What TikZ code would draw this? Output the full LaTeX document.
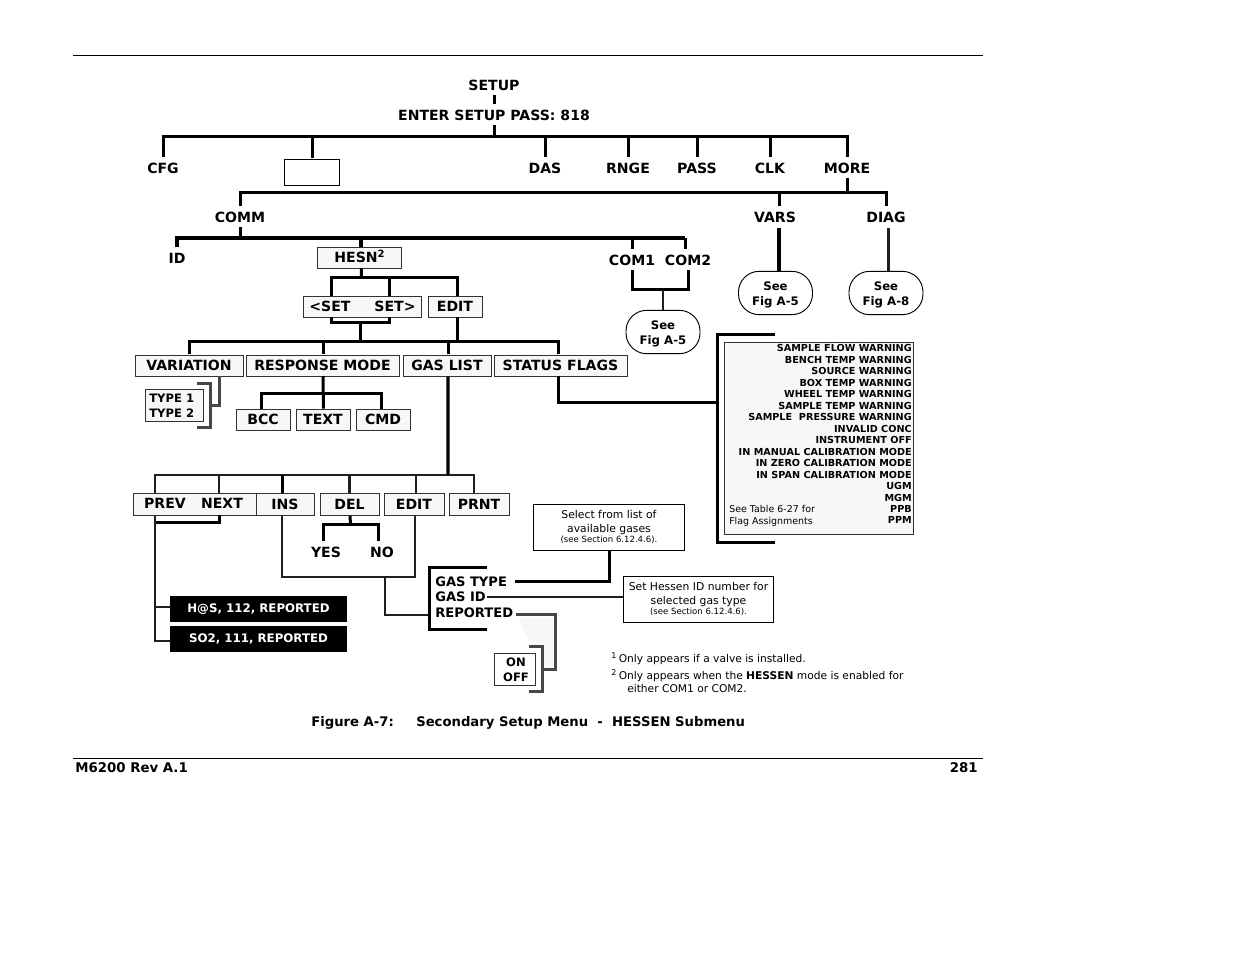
\documentclass[tikz,border=0pt]{standalone}
\usepackage{fontspec}
\setmainfont{DejaVu Sans}
\definecolor{boxgray}{RGB}{247,247,247}
\definecolor{wiredark}{RGB}{50,50,50}
\tikzset{
  lab/.style={font=\fontsize{10.55}{13}\selectfont\bfseries,inner xsep=0pt,inner ysep=3.5pt,text height=8.6pt,text depth=0pt},
  gasfield/.style={lab,font=\fontsize{9.8}{13}\selectfont\bfseries},
  menubox/.style={lab,text height=7.7pt,text depth=0.6pt,inner ysep=3.5pt,draw=wiredark,line width=0.6pt,fill=boxgray,minimum height=15.6pt},
  blob/.style={draw,line width=0.7pt,rounded corners=15.5pt,fill=white,align=center,inner sep=0pt,font=\fontsize{8.8}{11}\selectfont\bfseries,minimum width=55.5pt,minimum height=32.5pt},
  smallbox/.style={draw=wiredark,line width=0.6pt,fill=boxgray,inner sep=0pt},
  smalltext/.style={font=\fontsize{8.7}{11.2}\selectfont\bfseries,inner sep=0pt,align=left},
  notebox/.style={draw,line width=0.7pt,fill=white,inner sep=0pt,minimum width=113pt,minimum height=34.5pt},
  notetext/.style={font=\fontsize{8.1}{9.8}\selectfont,inner sep=0pt,align=center},
  notesmall/.style={font=\fontsize{6.4}{7}\selectfont,inner sep=0pt},
  blackbox/.style={fill=black,text=white,inner sep=0pt,minimum width=132.8pt,minimum height=19.5pt,font=\fontsize{8.85}{10}\selectfont\bfseries},
  flagtext/.style={font=\fontsize{7.25}{8.6}\selectfont\bfseries,inner sep=0pt,align=right},
  footnote/.style={font=\fontsize{8}{10}\selectfont,inner sep=0pt,anchor=west},
  caption/.style={font=\fontsize{10}{11}\selectfont\bfseries,inner sep=0pt,anchor=west},
  wire/.style={line width=2.25pt,transform canvas={shift={(0.375pt,0.375pt)}}},
  wirethick/.style={line width=2.5pt},
  wirethin/.style={line width=1.8pt,color=black!88},
  wiregray/.style={wire,color=wiredark!90}
}
\begin{document}
\begin{tikzpicture}[x=0.75pt,y=0.75pt,yscale=-1]
    \useasboundingbox (0,0) rectangle (1235,954);

    % Page rules
    \coordinate (ruletopl) at (73,55);
    \coordinate (ruletopr) at (983,55);
    \coordinate (rulebotl) at (73,758);
    \coordinate (rulebotr) at (983,758);
    \draw [line width=0.7pt] (ruletopl) -- (ruletopr);
    \draw [line width=0.7pt] (rulebotl) -- (rulebotr);

    % Top menu
    \node [lab] (setup) at (494,85) {SETUP};
    \node [lab] (enter) at (494,115) {ENTER SETUP PASS: 818};
    \node [lab] (cfg) at (163,168) {CFG};
    \node [draw,line width=0.7pt,inner sep=0pt,minimum width=41.2pt,minimum height=19.5pt] (blank) at (312,172) {};
    \node [lab] (das) at (545,168) {DAS};
    \node [lab] (rnge) at (628,168) {RNGE};
    \node [lab] (pass) at (697,168) {PASS};
    \node [lab] (clk) at (770,168) {CLK};
    \node [lab] (more) at (847,168) {MORE};
    \coordinate (busmain) at (494,137);
    \draw [wire] (setup) -- (enter);
    \draw [wire] (enter) -- (busmain);
    \foreach \n in {cfg,blank,das,rnge,pass,clk,more}
        \draw [wire] (\n.north) |- (busmain);

    % Second level
    \node [lab] (comm) at (240,217) {COMM};
    \node [lab] (vars) at (775,217) {VARS};
    \node [lab] (diag) at (886,217) {DIAG};
    \coordinate (busmore) at (847,193);
    \draw [wire] (more) -- (busmore);
    \draw [wire] (comm.north) |- (busmore);
    \draw [wire] ([xshift=3pt]vars.north) |- (busmore);
    \draw [wire] (diag.north) |- (busmore);
    \node [blob] (seevars) at (775.5,293) {\rule{0pt}{9.5pt}See\\Fig A-5};
    \node [blob] (seediag) at (886,293) {\rule{0pt}{9.5pt}See\\Fig A-8};
    \draw [wirethick] ([xshift=3pt]vars.south) -- ([xshift=3pt]vars.south |- seevars.north);
    \draw [wirethin] ([xshift=2pt]diag.south) -- ([xshift=2pt]diag.south |- seediag.north);

    % COMM branch
    \node [lab] (id) at (177,258) {ID};
    \node [menubox,minimum width=63.5pt] (hesn) at (359.5,258) {HESN\raisebox{3.6pt}{\fontsize{7.5}{8}\selectfont 2}};
    \node [lab] (com1) at (632,260) {COM1};
    \node [lab] (com2) at (688,260) {COM2};
    \coordinate (buscomm) at (240,238);
    \draw [wire] (comm) -- (buscomm);
    \draw [wirethick] (id.north) |- (buscomm);
    \draw [wirethick] ([xshift=1pt]hesn.north) |- (buscomm);
    \draw [wire] (com1.north) -- (com1.north |- buscomm);
    \draw [wire] ([xshift=-2pt]com2.north) -- ([xshift=-2pt]com2.north |- buscomm);
    \draw [wirethick] ([xshift=-2pt]com2.north |- buscomm) -- (buscomm);
    \node [blob] (seecom) at (663,332) {\rule{0pt}{9.5pt}See\\Fig A-5};
    \coordinate (buscom) at (663,290);
    \draw [wire] (com1.south) |- (buscom);
    \draw [wire] (com2.south) |- (buscom);
    \draw [wirethin] (buscom) -- (seecom.north);

    % HESN branch
    \node [menubox,minimum width=88.5pt] (setbox) at (362,306.5) {};
    \node [lab] (setl) at (330,306) {<SET};
    \node [lab] (setr) at (395,306) {SET>};
    \node [menubox,minimum width=40.5pt] (hedit) at (455,306.5) {EDIT};
    \coordinate (bushesn) at (361,278);
    \coordinate (setbus) at (360,323);
    \coordinate (bustop) at (360,342);
    \coordinate (setltop) at (331,296.5);
    \coordinate (setrtop) at (389,296.5);
    \coordinate (setlbot) at (331,317);
    \coordinate (setrbot) at (389,317);
    \coordinate (heditx) at (457,296.5);
    \coordinate (heditb) at (457,317);
    \draw [wire] ([xshift=1pt]hesn.south) -- (bushesn);
    \draw [wire] (setltop) |- (bushesn);
    \draw [wire] (setrtop) |- (bushesn);
    \draw [wire] (heditx) |- (bushesn);
    \draw [wire] (setlbot) |- (setbus);
    \draw [wire] (setrbot) |- (setbus);
    \draw [wire] (setbus) -- (bustop);

    % Main row
    \node [menubox,minimum width=81pt] (variation) at (189,365.7) {VARIATION};
    \node [menubox,minimum width=114.8pt] (respmode) at (322.5,365.7) {RESPONSE MODE};
    \node [menubox,minimum width=66pt] (gaslist) at (447,365.7) {GAS LIST};
    \node [menubox,minimum width=99.8pt] (status) at (560.5,365.7) {STATUS FLAGS};
    \draw [wire] (heditb) |- (bustop);
    \draw [wire] (variation.north) |- (bustop);
    \draw [wire] (respmode.north) |- (bustop);
    \draw [wire] ([xshift=0.7pt]gaslist.north) |- (bustop);
    \draw [wire] ([xshift=-2pt]status.north) |- (bustop);

    % Variation types
    \node [smallbox,minimum width=43.5pt,minimum height=24pt] (typebox) at (174,405) {};
    \node [smalltext,anchor=west] (type1) at (149,398) {TYPE 1};
    \node [smalltext,anchor=west] (type2) at (149,413) {TYPE 2};
    \coordinate (typebrk) at (210,406);
    \coordinate (typetop) at (196,384);
    \coordinate (typebot) at (196,428);
    \draw [wiregray] (typetop) -- (210,384) -- (210,428) -- (typebot);
    \draw [wiregray] ([xshift=22.5pt]variation.south) |- (typebrk);

    % Response mode
    \node [menubox,minimum width=40.5pt] (bcc) at (263,420) {BCC};
    \node [menubox,minimum width=40.5pt] (text) at (323,420) {TEXT};
    \node [menubox,minimum width=40.5pt] (cmd) at (383,420) {CMD};
    \coordinate (busresp) at (323,394);
    \draw [wire] (respmode.south) -- (text.north);
    \draw [wire] ([xshift=-1.5pt]bcc.north) |- (busresp);
    \draw [wire] ([xshift=-1.5pt]cmd.north) |- (busresp);

    % Gas list row
    \node [menubox,minimum width=92.2pt,minimum height=16.9pt] (prevbox) at (194.5,504.5) {};
    \node [lab] (prev) at (165,503) {PREV};
    \node [lab] (next) at (222,503) {NEXT};
    \node [menubox,minimum width=43.5pt,minimum height=16.9pt] (ins) at (285,504.5) {INS};
    \node [menubox,minimum width=44.2pt,minimum height=16.9pt] (del) at (349.5,504.5) {DEL};
    \node [menubox,minimum width=45pt,minimum height=16.9pt] (gedit) at (414,504.5) {EDIT};
    \node [menubox,minimum width=45pt,minimum height=16.9pt] (prnt) at (479,504.5) {PRNT};
    \coordinate (busgas) at (448,475);
    \coordinate (prevtop) at (155,493);
    \coordinate (prevbot) at (155,515.5);
    \coordinate (nexttop) at (219,493);
    \coordinate (nextbot) at (219,515.5);
    \coordinate (instop) at (282,493);
    \coordinate (insbot) at (282,515.5);
    \draw [wirethin] (prevtop) |- (busgas);
    \draw [wirethin] (nexttop) |- (busgas);
    \draw [wirethin] (del.north) |- (busgas);
    \draw [wirethin] ([xshift=1.5pt]gedit.north) |- (busgas);
    \draw [wirethin] ([xshift=-3.7pt]prnt.north) |- (busgas);
    \draw [wire] (instop) -- (instop |- busgas);
    \draw [wirethick] ([xshift=0.7pt]gaslist.south) -- (busgas);

    % YES and NO
    \node [lab] (yes) at (326,552) {YES};
    \node [lab] (no) at (382,552) {NO};
    \coordinate (busdel) at (350,525);
    \draw [wire] (del.south) -- (busdel);
    \draw [wire] ([xshift=-2.2pt]yes.north) |- (busdel);
    \draw [wire] ([xshift=-3pt]no.north) |- (busdel);

    % Reported gases
    \node [blackbox] (h2s) at (258.5,609) {H@S, 112, REPORTED};
    \node [blackbox] (so2) at (258.5,639) {SO2, 111, REPORTED};
    \coordinate (busprev) at (155,523);
    \coordinate (prevdown) at (155,607);
    \coordinate (so2down) at (155,641);
    \draw [wirethin] (prevbot) |- (so2down -| so2.west);
    \draw [wirethin] (prevdown) -- (prevdown -| h2s.west);
    \draw [wire] (nextbot) |- (busprev);

    % Gas fields
    \node [gasfield,anchor=west] (gastype) at (435,581) {GAS TYPE};
    \node [gasfield,anchor=west] (gasid) at (435,596) {GAS ID};
    \node [gasfield,anchor=west] (reported) at (435,612) {REPORTED};
    \coordinate (busedit) at (385,577);
    \coordinate (gasbrk) at (429,615);
    \coordinate (gastop) at (486,568);
    \coordinate (gasbot) at (486,630);
    \draw [wirethin] (insbot) |- (busedit);
    \draw [wirethin] ([xshift=0.7pt]gedit.south) |- (busedit);
    \draw [wirethin] (busedit) |- (gasbrk);
    \draw [wire] (gastop) -- (429,568) -- (429,630) -- (gasbot);

    % Boxes with notes
    \node [notebox] (selectbox) at (609,527.5) {};
    \node [notetext] (selecttext) at (609,522.5) {Select from list of\\available gases};
    \node [notesmall] (selectsec) at (609,539.5) {(see Section 6.12.4.6).};
    \node [notebox] (setidbox) at (698.5,599) {};
    \node [notetext] (setidtext) at (698.5,594.5) {Set Hessen ID number for\\selected gas type};
    \node [notesmall] (setidsec) at (698.5,611.5) {(see Section 6.12.4.6).};
    \coordinate (typeline) at (514,581.7);
    \coordinate (idline) at (487,597);
    \draw [wire] (typeline) -| (selectbox.south);
    \draw [wirethin] (idline) -- (idline -| setidbox.west);

    % ON and OFF
    \fill [boxgray] (518,618) -- (553,618) -- (553,668) -- (543,668) -- (543,648) -- (533,648) -- cycle;
    \node [smallbox,fill=white,minimum width=30.8pt,minimum height=24pt] (onbox) at (514.5,669) {};
    \node [smalltext,align=center] (onoff) at (516,669.3) {ON\\OFF};
    \coordinate (repbrk) at (555,615);
    \coordinate (onbrk) at (542,670);
    \coordinate (ontop) at (528,647);
    \coordinate (onbot) at (528,692);
    \draw [wiregray] (ontop) -- (542,647) -- (542,692) -- (onbot);
    \draw [wiregray] ([xshift=1.5pt]reported.east |- repbrk) -- (repbrk) |- (onbrk);

    % Status flags
    \node [smallbox,minimum width=141.8pt,minimum height=144pt] (flagbox) at (818.5,438) {};
    \node [flagtext,anchor=north east] (flags) at (912,344.5) {SAMPLE FLOW WARNING\\BENCH TEMP WARNING\\SOURCE WARNING\\BOX TEMP WARNING\\WHEEL TEMP WARNING\\SAMPLE TEMP WARNING\\SAMPLE~~PRESSURE WARNING\\INVALID CONC\\INSTRUMENT OFF\\IN MANUAL CALIBRATION MODE\\IN ZERO CALIBRATION MODE\\IN SPAN CALIBRATION MODE\\UGM\\MGM\\PPB\\PPM};
    \node [font=\fontsize{7.1}{8.6}\selectfont,inner sep=0pt,align=left,anchor=south west] (seetable) at (729,526.5) {See Table 6-27 for\\Flag Assignments};
    \coordinate (flagbrk) at (717,403);
    \coordinate (flagtop) at (774,335);
    \coordinate (flagbot) at (774,543);
    \draw [wire] (flagtop) -- (717,335) -- (717,543) -- (flagbot);
    \draw [wire] ([xshift=-2pt]status.south) |- (flagbrk);

    % Footnotes
    \node [footnote] (note1) at (611,659) {\textsuperscript{1}\,Only appears if a valve is installed.};
    \node [footnote] (note2) at (611,676) {\textsuperscript{2}\,Only appears when the \textbf{HESSEN} mode is enabled for};
    \node [footnote] (note3) at (627,689) {either COM1 or COM2.};

    % Caption and footer
    \node [caption,font=\fontsize{9.9}{11}\selectfont\bfseries] (figlabel) at (311,722.5) {Figure A-7:};
    \node [caption,font=\fontsize{9.9}{11}\selectfont\bfseries] (figtitle) at (416,722.5) {Secondary Setup Menu~~-~~HESSEN Submenu};
    \node [caption] (rev) at (75,768) {M6200 Rev A.1};
    \node [caption,anchor=east] (page) at (978,768) {281};
\end{tikzpicture}
\end{document}
